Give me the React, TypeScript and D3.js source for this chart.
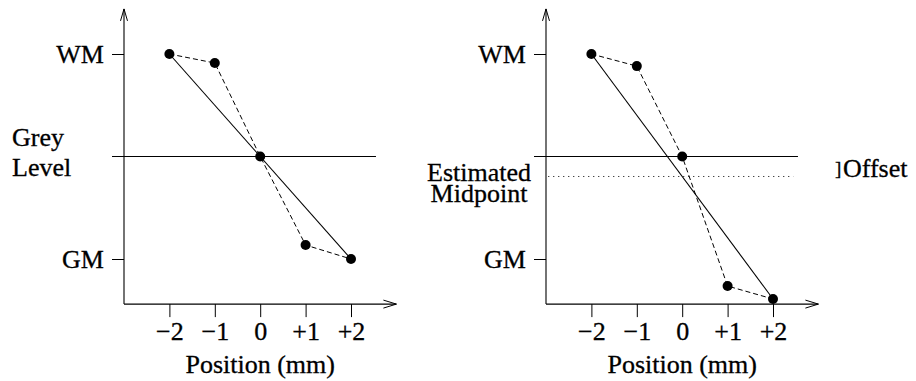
import { useEffect, useRef } from "react";
import * as d3 from "d3";

// positions along the profile (mm) and their tick labels
const positions = [-2, -1, 0, 1, 2];
const positionLabels = ["−2", "−1", "0", "+1", "+2"];

// grey level samples, GM = 0, WM = 1
const leftProfile = [1.0, 0.956, 0.5, 0.068, 0.0];
const rightProfile = [1.0, 0.941, 0.5, -0.132, -0.195];

const levelNames = ["WM", "GM"];
const levelValues = [1, 0];
const greyMid = 0.5;

const FONT = "'Liberation Serif', 'Times New Roman', serif";

export default function App() {
  const ref = useRef<SVGSVGElement>(null);

  useEffect(() => {
    if (!ref.current) return;
    const svg = d3.select(ref.current);
    svg.selectAll("*").remove();

    const x = d3.scaleLinear().domain([-3, 3]).range([0, 272.4]);
    const y = d3.scaleLinear().domain([0, 1]).range([259, 54]);
    const yBottom = y(-0.22);
    const yTop = y(1.22);

    // text a touch heavier, like the scanned figure
    const heavy = (sel: d3.Selection<any, any, any, any>) =>
      sel.attr("stroke", "#000").attr("stroke-width", 0.3).attr("fill", "#000");

    const drawPanel = (left: number, profile: number[], showMidpoint: boolean) => {
      const g = svg.append("g").attr("transform", `translate(${left},0)`);

      // axes lines
      g.append("line").attr("x1", 0).attr("x2", 0).attr("y1", yBottom).attr("y2", yTop)
        .attr("stroke", "#000").attr("stroke-width", 1.1);
      g.append("line").attr("x1", 0).attr("x2", x(3)).attr("y1", yBottom).attr("y2", yBottom)
        .attr("stroke", "#000").attr("stroke-width", 1.1);
      // arrow heads
      g.append("path").attr("d", `M${-3.5},${yTop + 12} L0,${yTop} L${3.5},${yTop + 12}`)
        .attr("fill", "none").attr("stroke", "#000");
      g.append("path").attr("d", `M${x(3) - 13},${yBottom - 4} L${x(3)},${yBottom} L${x(3) - 13},${yBottom + 4}`)
        .attr("fill", "none").attr("stroke", "#000");

      // x ticks
      const xAxis = g.append("g").attr("transform", `translate(0,${yBottom})`)
        .call(d3.axisBottom(x).tickValues(positions).tickSize(13).tickPadding(4.5)
          .tickFormat((_, i) => positionLabels[i]));
      xAxis.select(".domain").remove();
      xAxis.attr("font-family", FONT).attr("font-size", 26);
      xAxis.selectAll("line").attr("stroke", "#000");
      heavy(xAxis.selectAll("text"));

      // y ticks
      const yAxis = g.append("g")
        .call(d3.axisLeft(y).tickValues(levelValues).tickSize(12).tickPadding(8)
          .tickFormat((_, i) => levelNames[i]));
      yAxis.select(".domain").remove();
      yAxis.attr("font-family", FONT).attr("font-size", 26);
      yAxis.selectAll("line").attr("stroke", "#000");
      heavy(yAxis.selectAll("text"));

      // mid grey level line
      g.append("line").attr("x1", -12).attr("x2", x(2.55)).attr("y1", y(greyMid)).attr("y2", y(greyMid))
        .attr("stroke", "#000").attr("stroke-width", 1.1);

      if (showMidpoint) {
        const est = (profile[0] + profile[profile.length - 1]) / 2;
        g.append("line").attr("x1", x(-2.95)).attr("x2", x(2.45)).attr("y1", y(est)).attr("y2", y(est))
          .attr("stroke", "#000").attr("stroke-width", 1).attr("stroke-dasharray", "1,4");
      }

      // straight fit through the end points
      g.append("line")
        .attr("x1", x(positions[0])).attr("y1", y(profile[0]))
        .attr("x2", x(positions[positions.length - 1])).attr("y2", y(profile[profile.length - 1]))
        .attr("stroke", "#000").attr("stroke-width", 1.1);

      // sampled profile
      const line = d3.line<number>().x((_, i) => x(positions[i])).y((d) => y(d));
      g.append("path").attr("d", line(profile)).attr("fill", "none")
        .attr("stroke", "#000").attr("stroke-width", 1).attr("stroke-dasharray", "5,3");

      g.selectAll("circle").data(profile).join("circle")
        .attr("cx", (_, i) => x(positions[i])).attr("cy", (d) => y(d)).attr("r", 5).attr("fill", "#000");

      heavy(g.append("text").attr("x", x(0)).attr("y", 373).attr("text-anchor", "middle")
        .attr("font-family", FONT).attr("font-size", 26).text("Position (mm)"));
    };

    drawPanel(124, leftProfile, false);
    drawPanel(546, rightProfile, true);

    // left y label
    const gl = heavy(svg.append("text").attr("font-family", FONT).attr("font-size", 26));
    gl.append("tspan").attr("x", 12).attr("y", y(greyMid) - 11).text("Grey");
    gl.append("tspan").attr("x", 12).attr("y", y(greyMid) + 19).text("Level");

    // right annotations
    const est = (rightProfile[0] + rightProfile[rightProfile.length - 1]) / 2;
    const em = heavy(svg.append("text").attr("font-family", FONT).attr("font-size", 26).attr("text-anchor", "middle"));
    em.append("tspan").attr("x", 479).attr("y", y(est) + 5).text("Estimated");
    em.append("tspan").attr("x", 479).attr("y", y(est) + 26).text("Midpoint");

    const off = heavy(svg.append("text").attr("font-family", FONT).attr("y", y(est) + 0.5));
    off.append("tspan").attr("x", 835).attr("font-size", 19).attr("dy", -2).text("]");
    off.append("tspan").attr("x", 843).attr("font-size", 26).attr("dy", 2).text("Offset");
  }, []);

  return (
    <svg
      ref={ref}
      width={916}
      height={381}
      style={{ position: "absolute", left: 0, top: 0, background: "#fff" }}
    />
  );
}
